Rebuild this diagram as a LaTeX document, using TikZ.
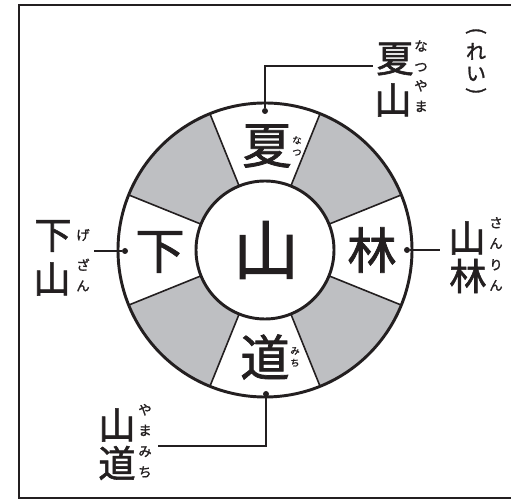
\documentclass[tikz,border=0pt]{standalone}
\usepackage{fontspec}
\setmainfont{Noto Sans CJK JP}[FakeBold=1.5]
\usetikzlibrary{calc}
\definecolor{ink}{RGB}{35,31,32}
\definecolor{sectorgray}{RGB}{190,191,194}

\begin{document}
\begin{tikzpicture}[x=0.75pt,y=-0.75pt,
    kanji/.style={inner sep=0pt,text=ink,font=\fontsize{28}{28}\selectfont},
    ringkanji/.style={kanji,font=\fontsize{37}{37}\selectfont},
    furi/.style={inner sep=0pt,align=center,text=ink,font=\fontsize{10}{15.5}\selectfont},
    smallfuri/.style={furi,font=\fontsize{7}{9}\selectfont},
    dot/.style={circle,fill=ink,inner sep=0pt,minimum size=4.5pt},
    link/.style={draw=ink,line width=1.1pt}]
    \useasboundingbox (0,0) rectangle (511,502);
    %frame
    \draw[ink,line width=2.2pt] (511,5) -- (19,5) -- (19,498) -- (511,498);
    %ring
    \coordinate (C) at (265,250);
    \foreach \a in {45,135,225,315}
      \fill[sectorgray] ($(C)+(\a-23:69)$) arc[start angle=\a-23,end angle=\a+23,radius=69]
        -- ($(C)+(\a+23:147)$) arc[start angle=\a+23,end angle=\a-23,radius=147] -- cycle;
    \foreach \a in {22,68,112,158,202,248,292,338}
      \draw[ink,line width=1.2pt] ($(C)+(\a:69)$) -- ($(C)+(\a:147)$);
    \draw[ink,line width=2.2pt] (C) circle[radius=147];
    \draw[ink,line width=2.2pt,fill=white] (C) circle[radius=69];
    %ring texts
    \node[kanji,font=\fontsize{49}{49}\selectfont] (yama) at (266,250) {山};
    \node[ringkanji] (natsu) at (267,146) {夏};
    \node[smallfuri] (natsuF) at (297,146) {な\\つ};
    \node[ringkanji] (hayashi) at (372,250) {林};
    \node[ringkanji] (shita) at (160,252) {下};
    \node[ringkanji] (michi) at (265,357) {道};
    \node[smallfuri] (michiF) at (295,357) {み\\ち};
    %dots
    \node[dot] (dN) at (265,111) {};
    \node[dot] (dE) at (407,250) {};
    \node[dot] (dW) at (125,251) {};
    \node[dot] (dS) at (266,394) {};
    % natsuyama
    \node[kanji] (natsuyama1) at (395,59) {夏};
    \node[kanji] (natsuyama2) at (393,100) {山};
    \node[furi] (natsuyamaF1) at (421,56) {な\\つ};
    \node[furi] (natsuyamaF2) at (421,96) {や\\ま};
    \coordinate (natsuyamaEnd) at (373,66);
    \draw[link] (dN) |- (natsuyamaEnd);
    % sanrin
    \node[kanji] (sanrin1) at (467,238) {山};
    \node[kanji] (sanrin2) at (468,276) {林};
    \node[furi] (sanrinF1) at (496,233) {さ\\ん};
    \node[furi] (sanrinF2) at (496,275) {り\\ん};
    \coordinate (sanrinEnd) at (440,250);
    \draw[link] (dE) -- (sanrinEnd);
    % gezan
    \node[kanji] (gezan1) at (53,236) {下};
    \node[kanji] (gezan2) at (52,279) {山};
    \node[furi] (gezanF1) at (83,235) {げ};
    \node[furi] (gezanF2) at (83,275) {ざ\\ん};
    \coordinate (gezanEnd) at (94,251);
    \draw[link] (dW) -- (gezanEnd);
    % yamamichi
    \node[kanji] (yamamichi1) at (117,425) {山};
    \node[kanji] (yamamichi2) at (117,463) {道};
    \node[furi] (yamamichiF1) at (145,420) {や\\ま};
    \node[furi] (yamamichiF2) at (145,462) {み\\ち};
    \coordinate (yamamichiEnd) at (158,446);
    \draw[link] (dS) |- (yamamichiEnd);
    %example mark
    \node[text=ink,inner sep=0pt,rotate=-90,font=\fontsize{15}{15}\selectfont] (reiOpen) at (476,31) {(};
    \node[furi,font=\fontsize{15}{16.5}\selectfont] (rei) at (476,62) {れ\\い};
    \node[text=ink,inner sep=0pt,rotate=-90,font=\fontsize{15}{15}\selectfont] (reiClose) at (476,91) {)};
\end{tikzpicture}
\end{document}
